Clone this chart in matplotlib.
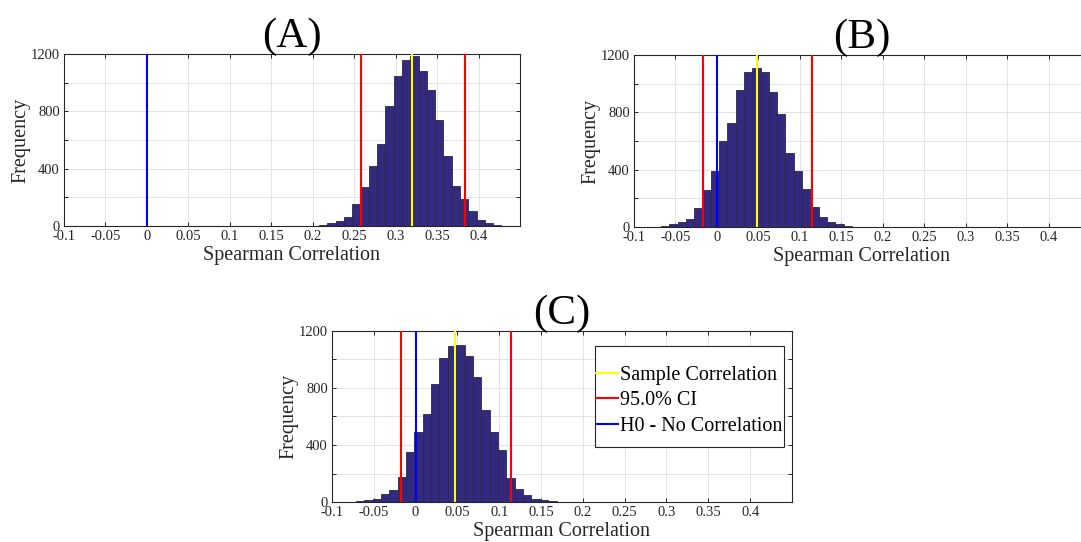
import numpy as np
import matplotlib
matplotlib.use('Agg')
import matplotlib.pyplot as plt
from matplotlib.patches import Rectangle
from matplotlib.ticker import FuncFormatter

plt.rcParams['font.family'] = ['Liberation Serif', 'DejaVu Serif']

bin_width = 0.01

# (A)
a_start = 0.1877
a_counts = [2, 3, 5, 19, 37, 60, 154, 269, 418, 572, 834, 1045, 1156, 1185,
            1085, 952, 739, 487, 278, 188, 105, 41, 20, 8]
a_sample = 0.320
a_ci = [0.2577, 0.3835]

# (B)
b_start = -0.0773
b_counts = [3, 8, 21, 35, 56, 132, 260, 393, 597, 727, 955, 1080, 1107, 1082,
            940, 785, 516, 389, 267, 137, 73, 34, 22, 5, 3]
b_sample = 0.0486
b_ci = [-0.0173, 0.1153]

# (C)
c_start = -0.0915
c_counts = [2, 2, 5, 13, 23, 56, 82, 177, 348, 493, 621, 826, 1013, 1096, 1105,
            1026, 879, 646, 493, 362, 166, 88, 46, 24, 12, 7, 2, 1, 1]
c_sample = 0.0476
c_ci = [-0.0171, 0.1143]

h0 = 0.0
x_ticks = [-0.1, -0.05, 0, 0.05, 0.1, 0.15, 0.2, 0.25, 0.3, 0.35, 0.4]
y_ticks = [0, 200, 400, 600, 800, 1000, 1200]

bar_color = '#33297f'
edge_color = '#2a2a45'
ink = '#262626'

fig = plt.figure(figsize=(10.81, 5.42), dpi=100)
ax_a = fig.add_axes([0.0592, 0.5830, 0.4218, 0.3173])
ax_b = fig.add_axes([0.5865, 0.5812, 0.4218, 0.3173])
ax_c = fig.add_axes([0.3071, 0.0738, 0.4255, 0.3155])


def draw(ax, start, counts, sample, ci, title):
    edges = start + bin_width * np.arange(len(counts))
    ax.bar(edges, counts, width=bin_width, align='edge', color=bar_color,
           edgecolor=edge_color, linewidth=0.6, zorder=2)
    l1 = ax.axvline(sample, color='#ffff00', lw=1.5, zorder=3)
    l2 = ax.axvline(ci[0], color='#ff0000', lw=1.5, zorder=3)
    ax.axvline(ci[1], color='#ff0000', lw=1.5, zorder=3)
    l3 = ax.axvline(h0, color='#0000ff', lw=1.5, zorder=3)
    ax.set_xlim(-0.1, 0.45)
    ax.set_ylim(0, 1200)
    ax.set_xticks(x_ticks)
    ax.set_yticks(y_ticks)
    ax.xaxis.set_major_formatter(FuncFormatter(lambda v, p: '%g' % round(v, 2)))
    ax.yaxis.set_major_formatter(
        FuncFormatter(lambda v, p: '%d' % v if int(round(v)) % 400 == 0 else ''))
    ax.grid(True, color='#e3e3e3', lw=0.7)
    ax.set_axisbelow(True)
    ax.tick_params(direction='in', length=3, width=0.7, top=True, right=True,
                   labelsize=10.5, colors=ink, pad=3)
    for s in ax.spines.values():
        s.set_color(ink)
        s.set_linewidth(0.8)
    ax.set_xlabel('Spearman Correlation', fontsize=14.5, color=ink, labelpad=2)
    ax.set_ylabel('Frequency', fontsize=14.5, color=ink, labelpad=0)
    ax.set_title(title, fontsize=31, pad=5)
    return l1, l2, l3


draw(ax_a, a_start, a_counts, a_sample, a_ci, '(A)')
draw(ax_b, b_start, b_counts, b_sample, b_ci, '(B)')
l1, l2, l3 = draw(ax_c, c_start, c_counts, c_sample, c_ci, '(C)')

# legend box drawn separately so the handles sit close to its left edge
ax_c.add_patch(Rectangle((0.572, 0.322), 0.411, 0.59, transform=ax_c.transAxes,
                         facecolor='white', edgecolor=ink, lw=0.8, zorder=4))
leg = ax_c.legend([l1, l2, l3], ['Sample Correlation', '95.0% CI', 'H0 - No Correlation'],
                  loc='center left', bbox_to_anchor=(0.574, 0.592), fontsize=14.5,
                  handlelength=1.1, handletextpad=0.1, labelspacing=0.33,
                  borderpad=0, frameon=False, borderaxespad=0)
leg.set_zorder(5)

fig.savefig('out.png', dpi=100)
